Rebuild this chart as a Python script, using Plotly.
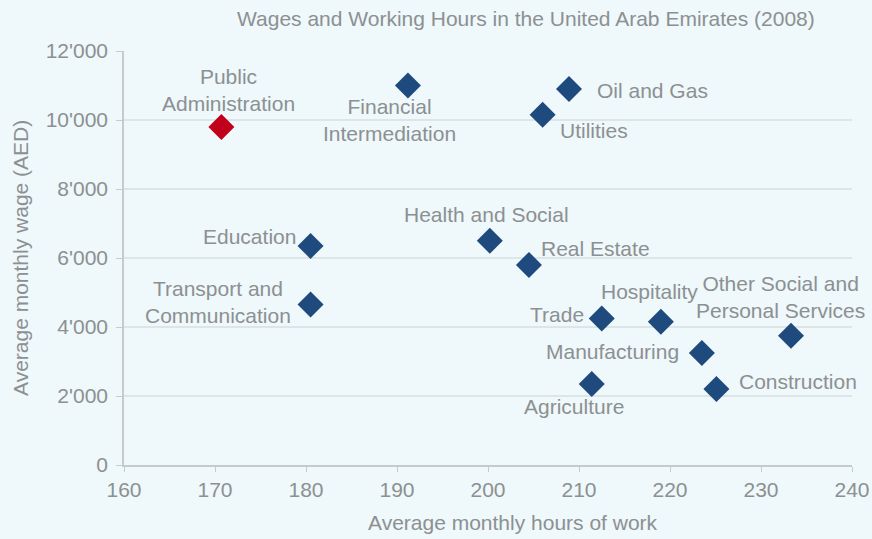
import plotly.graph_objects as go

sectors = ["Public Administration", "Financial Intermediation", "Oil and Gas", "Utilities",
           "Education", "Transport and Communication", "Health and Social", "Real Estate",
           "Trade", "Hospitality", "Manufacturing", "Other Social and Personal Services",
           "Agriculture", "Construction"]
hours = [170.7, 191.2, 208.9, 206.0, 180.5, 180.5, 200.2, 204.5, 212.5, 219.0, 223.5, 233.3, 211.4, 225.1]
wages = [9800, 11000, 10900, 10150, 6350, 4650, 6500, 5800, 4250, 4150, 3250, 3750, 2350, 2200]
labels = ["Public<br>Administration", "Financial<br>Intermediation", "Oil and Gas", "Utilities",
          "Education", "Transport and<br>Communication", "Health and Social", "Real Estate",
          "Trade", "Hospitality", "Manufacturing", "Other Social and<br>Personal Services",
          "Agriculture", "Construction"]
highlight = ["Public Administration"]

x_ticks = [160, 170, 180, 190, 200, 210, 220, 230, 240]
y_ticks = [0, 2000, 4000, 6000, 8000, 10000, 12000]
y_tick_text = ["0", "2'000", "4'000", "6'000", "8'000", "10'000", "12'000"]

# label offsets (pixels): xshift, yshift, xanchor
label_pos = {
    "Public Administration": (7, 37, "center"),
    "Financial Intermediation": (-18, -34, "center"),
    "Oil and Gas": (26, -2, "left"),
    "Utilities": (15, -16, "left"),
    "Education": (-13, 9, "right"),
    "Transport and Communication": (-18, 3, "right"),
    "Health and Social": (-3, 26, "center"),
    "Real Estate": (10, 16, "left"),
    "Trade": (-16, 4, "right"),
    "Hospitality": (-11, 30, "center"),
    "Manufacturing": (-21, 1, "right"),
    "Other Social and Personal Services": (-11, 39, "center"),
    "Agriculture": (-18, -23, "center"),
    "Construction": (21, 8, "left"),
}

blue = "#1f4a7e"
red = "#c1001b"
gray = "#8c9092"
FONT = "Liberation Sans, Arial, sans-serif"
colors = [red if s in highlight else blue for s in sectors]

fig = go.Figure()
fig.add_trace(go.Scatter(
    x=hours, y=wages, mode="markers",
    marker=dict(symbol="diamond", size=20, color=colors, line=dict(width=0)),
    hoverinfo="text", text=sectors, showlegend=False, cliponaxis=False,
))

for s, h, w, lab in zip(sectors, hours, wages, labels):
    xs, ys, xa = label_pos[s]
    fig.add_annotation(x=h, y=w, text=lab, showarrow=False, xanchor=xa, yanchor="middle",
                       xshift=xs, yshift=ys, align="center",
                       font=dict(size=21, color=gray, family=FONT))

fig.add_annotation(text="Wages and Working Hours in the United Arab Emirates (2008)",
                   xref="paper", yref="paper", x=(526 - 124) / 728, y=1 + (51 - 18) / 414,
                   xanchor="center", yanchor="middle", showarrow=False,
                   font=dict(size=21, color=gray, family=FONT))
fig.add_annotation(text="Average monthly hours of work",
                   xref="paper", yref="paper", x=(513 - 124) / 728, y=-(522 - 465) / 414,
                   xanchor="center", yanchor="middle", showarrow=False,
                   font=dict(size=21, color=gray, family=FONT))
fig.add_annotation(text="Average monthly wage (AED)",
                   xref="paper", yref="paper", x=-(124 - 20) / 728, y=0.5, textangle=-90,
                   xanchor="center", yanchor="middle", showarrow=False,
                   font=dict(size=21, color=gray, family=FONT))

fig.update_layout(
    width=872, height=539,
    margin=dict(l=124, r=20, t=51, b=74, autoexpand=False),
    paper_bgcolor="#eff8fa", plot_bgcolor="#eff8fa",
    font=dict(family=FONT, color=gray, size=21),
    xaxis=dict(range=[160, 240], tickvals=x_ticks, showgrid=False, zeroline=False,
               automargin=False,
               showline=True, linecolor="#c5cbcd", linewidth=1.5, ticks="outside",
               ticklen=5, tickcolor="#c5cbcd", tickfont=dict(size=21, color=gray)),
    yaxis=dict(range=[0, 12000], tickvals=y_ticks, ticktext=y_tick_text, showgrid=True,
               automargin=False, ticklabelstandoff=4,
               gridcolor="#dde5e7", gridwidth=1.5, zeroline=False,
               showline=True, linecolor="#c5cbcd", linewidth=1.5, ticks="outside",
               ticklen=6, tickcolor="#c5cbcd", tickfont=dict(size=21, color=gray)),
)

fig.write_html("out.html", config={"displayModeBar": False},
               post_script="document.body.style.margin='0';document.body.style.overflow='hidden';")
